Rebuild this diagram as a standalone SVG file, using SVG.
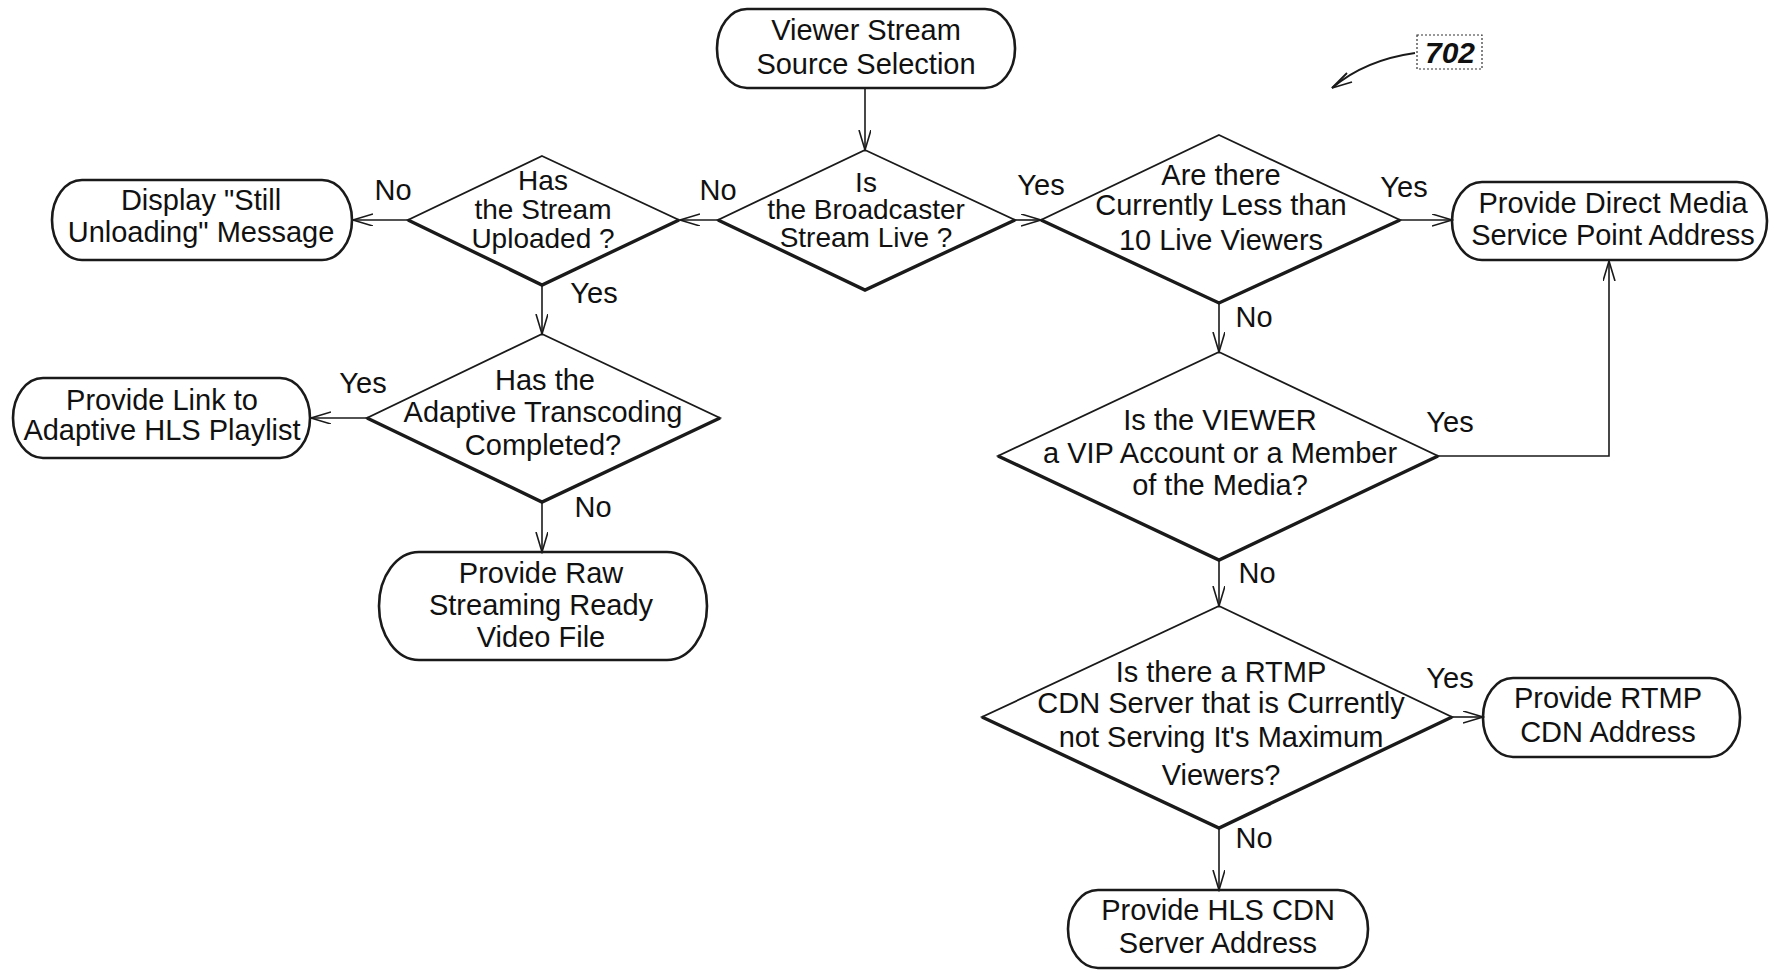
<svg xmlns="http://www.w3.org/2000/svg" width="1775" height="977" viewBox="0 0 1775 977">
<style>
.bg{fill:#ffffff}
.box{fill:none;stroke:#1a1a1a;stroke-width:2.6}
.dia{fill:none;stroke:#1a1a1a;stroke-width:1.8;stroke-linejoin:miter}
.dlow{fill:none;stroke:#1a1a1a;stroke-width:3.4;stroke-linejoin:miter}
.con{fill:none;stroke:#1a1a1a;stroke-width:1.6}
text{font-family:"Liberation Sans",Arial,sans-serif;font-size:29px;fill:#111;text-anchor:middle}
.lbl{font-size:29px}
.tight{font-size:28px}
.ref{font-weight:bold;font-style:italic;font-size:30px}
</style>
<defs>
<marker id="arr" markerUnits="userSpaceOnUse" markerWidth="22" markerHeight="14" refX="20" refY="6" orient="auto" viewBox="0 0 22 14">
<path d="M0,0 L20,6 L0,12" fill="none" stroke="#1a1a1a" stroke-width="1.6"/>
</marker>
</defs>
<rect class="bg" x="0" y="0" width="1775" height="977"/>

<g id="connectors">
<path class="con" d="M865,88 L865,150" marker-end="url(#arr)"/>
<path class="con" d="M718,220 L680,220" marker-end="url(#arr)"/>
<path class="con" d="M408,220 L353,220" marker-end="url(#arr)"/>
<path class="con" d="M542,285 L542,334" marker-end="url(#arr)"/>
<path class="con" d="M367,418 L311,418" marker-end="url(#arr)"/>
<path class="con" d="M542,502 L542,552" marker-end="url(#arr)"/>
<path class="con" d="M1015,220 L1041,220" marker-end="url(#arr)"/>
<path class="con" d="M1400,220 L1452,220" marker-end="url(#arr)"/>
<path class="con" d="M1219,303 L1219,352" marker-end="url(#arr)"/>
<path class="con" d="M1438,456 L1609,456 L1609,261" marker-end="url(#arr)"/>
<path class="con" d="M1219,560 L1219,606" marker-end="url(#arr)"/>
<path class="con" d="M1452,717 L1483,717" marker-end="url(#arr)"/>
<path class="con" d="M1219,828 L1219,890" marker-end="url(#arr)"/>
<text class="lbl" x="718" y="200">No</text>
<text class="lbl" x="393" y="200">No</text>
<text class="lbl" x="594" y="303">Yes</text>
<text class="lbl" x="363" y="393">Yes</text>
<text class="lbl" x="593" y="517">No</text>
<text class="lbl" x="1041" y="195">Yes</text>
<text class="lbl" x="1404" y="197">Yes</text>
<text class="lbl" x="1254" y="327">No</text>
<text class="lbl" x="1450" y="432">Yes</text>
<text class="lbl" x="1257" y="583">No</text>
<text class="lbl" x="1450" y="688">Yes</text>
<text class="lbl" x="1254" y="848">No</text>
</g>

<g id="n-start">
<rect class="box" x="717" y="9" width="298" height="79" rx="30" ry="39"/>
<text x="866" y="40">Viewer Stream</text>
<text x="866" y="74">Source Selection</text>
</g>

<g id="n-live">
<polygon class="dia" points="865,150 1015,220 865,290 718,220"/>
<polyline class="dlow" points="718,220 865,290 1015,220"/>
<text class="tight" x="866" y="192">Is</text>
<text class="tight" x="866" y="219">the Broadcaster</text>
<text class="tight" x="866" y="247">Stream Live ?</text>
</g>

<g id="n-uploaded">
<polygon class="dia" points="542,156 679,220 542,285 408,220"/>
<polyline class="dlow" points="408,220 542,285 679,220"/>
<text class="tight" x="543" y="190">Has</text>
<text class="tight" x="543" y="219">the Stream</text>
<text class="tight" x="543" y="248">Uploaded ?</text>
</g>

<g id="n-still">
<rect class="box" x="52" y="180" width="300" height="80" rx="30" ry="40"/>
<text x="201" y="210">Display "Still</text>
<text x="201" y="242">Unloading" Message</text>
</g>

<g id="n-adaptive">
<polygon class="dia" points="542,334 720,418 542,502 367,418"/>
<polyline class="dlow" points="367,418 542,502 720,418"/>
<text x="545" y="390">Has the</text>
<text x="543" y="422">Adaptive Transcoding</text>
<text x="543" y="455">Completed?</text>
</g>

<g id="n-hls-link">
<rect class="box" x="13" y="378" width="297" height="80" rx="30" ry="40"/>
<text x="162" y="410">Provide Link to</text>
<text x="162" y="440">Adaptive HLS Playlist</text>
</g>

<g id="n-raw">
<rect class="box" x="379" y="552" width="328" height="108" rx="40" ry="54"/>
<text x="541" y="583">Provide Raw</text>
<text x="541" y="615">Streaming Ready</text>
<text x="541" y="647">Video File</text>
</g>

<g id="n-less10">
<polygon class="dia" points="1219,135 1400,220 1219,303 1041,220"/>
<polyline class="dlow" points="1041,220 1219,303 1400,220"/>
<text x="1221" y="185">Are there</text>
<text x="1221" y="215">Currently Less than</text>
<text x="1221" y="250">10 Live Viewers</text>
</g>

<g id="n-direct">
<rect class="box" x="1452" y="182" width="315" height="78" rx="30" ry="39"/>
<text x="1613" y="213">Provide Direct Media</text>
<text x="1613" y="245">Service Point Address</text>
</g>

<g id="n-vip">
<polygon class="dia" points="1219,352 1438,456 1219,560 998,456"/>
<polyline class="dlow" points="998,456 1219,560 1438,456"/>
<text x="1220" y="430">Is the VIEWER</text>
<text x="1220" y="463">a VIP Account or a Member</text>
<text x="1220" y="495">of the Media?</text>
</g>

<g id="n-rtmp-q">
<polygon class="dia" points="1219,606 1452,717 1219,828 982,717"/>
<polyline class="dlow" points="982,717 1219,828 1452,717"/>
<text x="1221" y="682">Is there a RTMP</text>
<text x="1221" y="713">CDN Server that is Currently</text>
<text x="1221" y="747">not Serving It's Maximum</text>
<text x="1221" y="785">Viewers?</text>
</g>

<g id="n-rtmp">
<rect class="box" x="1483" y="678" width="257" height="79" rx="30" ry="39"/>
<text x="1608" y="708">Provide RTMP</text>
<text x="1608" y="742">CDN Address</text>
</g>

<g id="n-hls-cdn">
<rect class="box" x="1068" y="890" width="300" height="78" rx="30" ry="39"/>
<text x="1218" y="920">Provide HLS CDN</text>
<text x="1218" y="953">Server Address</text>
</g>

<g id="ref-702">
<rect x="1417" y="35" width="65" height="34" fill="none" stroke="#333" stroke-width="1.2" stroke-dasharray="2,2"/>
<text class="ref" x="1450" y="63">702</text>
<path d="M1415,53 Q1365,60 1332,88" fill="none" stroke="#1a1a1a" stroke-width="1.8"/>
<path d="M1347,73 L1332,88 L1352,82" fill="none" stroke="#1a1a1a" stroke-width="1.8"/>
</g>
</svg>
